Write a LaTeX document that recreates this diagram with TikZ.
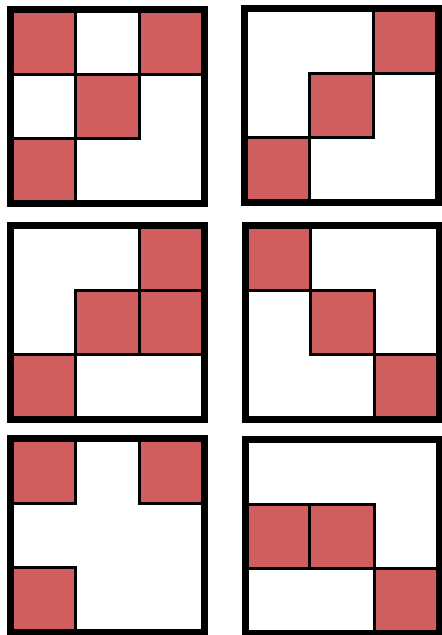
\documentclass[tikz,border=0pt]{standalone}
\definecolor{cellred}{RGB}{209,94,94}
% one 3x3 panel: corner x, corner y, list of red cells row/col
\newcommand{\gridpanel}[3]{%
  \fill[white] (#1,#2) rectangle ++(194,194);
  \foreach \r/\c in {#3}
    \draw[redcell] ({#1+\c*64.67},{#2+\r*64.67}) rectangle ++(64.67,64.67);
  \draw[frame] (#1,#2) rectangle ++(194,194);
}
\begin{document}
\begin{tikzpicture}[x=1pt,y=-1pt,
    frame/.style={draw=black, line width=7pt},
    redcell/.style={fill=cellred, draw=black, line width=3pt}]
    \useasboundingbox[fill=white] (0,0) rectangle (442,635);
    % top row
    \gridpanel{10.5}{9.5}{0/0,0/2,1/1,2/0}
    \gridpanel{244.5}{8.5}{0/2,1/1,2/0}
    % middle row
    \gridpanel{10.5}{225.5}{0/2,1/1,1/2,2/0}
    \gridpanel{245.5}{225.5}{0/0,1/1,2/2}
    % bottom row
    \gridpanel{10.5}{438.5}{0/0,0/2,2/0}
    \gridpanel{245}{439.5}{1/0,1/1,2/2}
\end{tikzpicture}
\end{document}
